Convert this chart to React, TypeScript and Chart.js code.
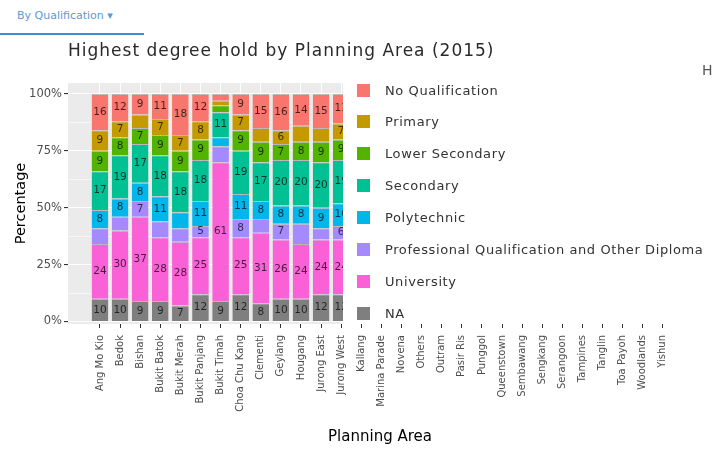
import React, { useEffect, useRef } from "react";
import { Chart, registerables } from "chart.js";

Chart.register(...registerables);

const FONT = "'DejaVu Sans', Verdana, sans-serif";

// Categories on the x axis
const planningAreas = [
  "Ang Mo Kio", "Bedok", "Bishan", "Bukit Batok", "Bukit Merah", "Bukit Panjang",
  "Bukit Timah", "Choa Chu Kang", "Clementi", "Geylang", "Hougang", "Jurong East",
  "Jurong West", "Kallang", "Marina Parade", "Novena", "Others", "Outram",
  "Pasir Ris", "Punggol", "Queenstown", "Sembawang", "Sengkang", "Serangoon",
  "Tampines", "Tanglin", "Toa Payoh", "Woodlands", "Yishun",
];

// Percent values (areas hidden behind the legend are not readable)
const noQualification = [16, 12, 9, 11, 18, 12, 3, 9, 15, 16, 14, 15, 13];
const primary = [9, 7, 6, 7, 7, 8, 2, 7, 6, 6, 7, 6, 7];
const lowerSecondary = [9, 8, 7, 9, 9, 9, 3, 9, 9, 7, 8, 9, 9];
const secondary = [17, 19, 17, 18, 18, 18, 11, 19, 17, 20, 20, 20, 19];
const polytechnic = [8, 8, 8, 11, 7, 11, 4, 11, 8, 8, 8, 9, 10];
const professional = [7, 6, 7, 7, 6, 5, 7, 8, 6, 7, 9, 5, 6];
const university = [24, 30, 37, 28, 28, 25, 61, 25, 31, 26, 24, 24, 24];
const notAvailable = [10, 10, 9, 9, 7, 12, 9, 12, 8, 10, 10, 12, 12];

// y tick values (major every 25, minor between)
const yTickValues = [0, 12.5, 25, 37.5, 50, 62.5, 75, 87.5, 100];

// Segment labels that are not printed in the original
const hiddenLabels = [
  "Professional Qualification and Other Diploma|Ang Mo Kio",
  "Professional Qualification and Other Diploma|Bedok",
  "Primary|Bishan",
  "Professional Qualification and Other Diploma|Bukit Batok",
  "Polytechnic|Bukit Merah",
  "Professional Qualification and Other Diploma|Bukit Merah",
  "No Qualification|Bukit Timah",
  "Primary|Bukit Timah",
  "Lower Secondary|Bukit Timah",
  "Polytechnic|Bukit Timah",
  "Professional Qualification and Other Diploma|Bukit Timah",
  "Primary|Clementi",
  "Professional Qualification and Other Diploma|Clementi",
  "Primary|Hougang",
  "Professional Qualification and Other Diploma|Hougang",
  "Primary|Jurong East",
  "Professional Qualification and Other Diploma|Jurong East",
];

// Legend order (top to bottom)
const series = [
  { label: "No Qualification", values: noQualification, color: "#F8766D" },
  { label: "Primary", values: primary, color: "#C49A00" },
  { label: "Lower Secondary", values: lowerSecondary, color: "#53B400" },
  { label: "Secondary", values: secondary, color: "#00C094" },
  { label: "Polytechnic", values: polytechnic, color: "#00B6EB" },
  { label: "Professional Qualification and Other Diploma", values: professional, color: "#A58AFF" },
  { label: "University", values: university, color: "#FB61D7" },
  { label: "NA", values: notAvailable, color: "#7F7F7F" },
];

const panelBackground = {
  id: "panelBackground",
  beforeDraw(chart: any) {
    const { ctx, chartArea } = chart;
    ctx.save();
    ctx.fillStyle = "#EBEBEB";
    ctx.fillRect(chartArea.left, chartArea.top, chartArea.right - chartArea.left, chartArea.bottom - chartArea.top);
    ctx.restore();
  },
};

const segmentLabels = {
  id: "segmentLabels",
  afterDatasetsDraw(chart: any) {
    const ctx = chart.ctx;
    ctx.save();
    ctx.font = `10.5px ${FONT}`;
    ctx.fillStyle = "rgba(0,0,0,0.72)";
    ctx.textAlign = "center";
    ctx.textBaseline = "middle";
    chart.data.datasets.forEach((ds: any, di: number) => {
      const meta = chart.getDatasetMeta(di);
      meta.data.forEach((bar: any, i: number) => {
        const raw = ds.data[i];
        if (!raw || raw.y == null) return;
        if (hiddenLabels.includes(`${ds.label}|${planningAreas[raw.x]}`)) return;
        const p = bar.getProps(["x", "y", "base"], true);
        ctx.fillText(String(raw.y), p.x, (p.y + p.base) / 2);
      });
    });
    ctx.restore();
  },
};

export default function App() {
  const canvasRef = useRef<HTMLCanvasElement | null>(null);

  useEffect(() => {
    if (!canvasRef.current) return;
    const datasets = [...series].reverse().map((s) => ({
      label: s.label,
      data: s.values.map((v, i) => ({ x: i, y: v })),
      backgroundColor: s.color,
      borderColor: "rgba(0,0,0,0.22)",
      borderWidth: { top: 1, bottom: 0, left: 0, right: 0 },
      borderSkipped: false,
      categoryPercentage: 1,
      barPercentage: 0.83,
    }));

    const chart = new Chart(canvasRef.current, {
      type: "bar",
      data: { datasets } as any,
      options: {
        responsive: false,
        animation: false,
        layout: { padding: { top: 83, right: 29, left: 0, bottom: 0 } },
        plugins: {
          legend: { display: false },
          tooltip: { enabled: false },
          title: { display: false },
        },
        scales: {
          x: {
            type: "linear",
            stacked: true,
            offset: false,
            min: -1.59,
            max: 29.45,
            afterBuildTicks: (s: any) => {
              s.ticks = planningAreas.map((_, i) => ({ value: i }));
            },
            afterFit: (s: any) => {
              s.height = 128;
            },
            ticks: {
              autoSkip: false,
              minRotation: 90,
              maxRotation: 90,
              padding: 7,
              color: "#4D4D4D",
              font: { family: FONT, size: 10 },
              callback: (v: any) => planningAreas[v] ?? "",
            },
            grid: {
              color: "#FFFFFF",
              lineWidth: 1,
              offset: false,
              drawTicks: true,
              tickLength: 4,
              tickColor: "#333333",
            },
            border: { display: false },
            title: {
              display: true,
              text: "Planning Area",
              color: "#000000",
              font: { family: FONT, size: 15 },
              padding: { top: 0, bottom: 6 },
            },
          },
          y: {
            stacked: true,
            min: -1.1,
            max: 104.8,
            afterBuildTicks: (s: any) => {
              s.ticks = yTickValues.map((v) => ({ value: v }));
            },
            afterFit: (s: any) => {
              s.width = 68;
            },
            ticks: {
              padding: 2,
              color: "#4D4D4D",
              font: { family: FONT, size: 11.5 },
              callback: (v: any) => (v % 25 === 0 ? `${v}%` : ""),
            },
            grid: {
              color: "#FFFFFF",
              lineWidth: (c: any) => (c.tick && c.tick.value % 25 === 0 ? 1.1 : 0.55),
              tickLength: 4,
              tickColor: (c: any) => (c.tick && c.tick.value % 25 === 0 ? "#333333" : "rgba(0,0,0,0)"),
            },
            border: { display: false },
            title: {
              display: true,
              text: "Percentage",
              color: "#000000",
              font: { family: FONT, size: 14.5 },
              padding: { top: 13, bottom: 0 },
            },
          },
        },
      } as any,
      plugins: [panelBackground, segmentLabels],
    });
    return () => chart.destroy();
  }, []);

  return (
    <div style={{ position: "absolute", left: 0, top: 0, width: 721, height: 452, background: "#FFFFFF", overflow: "hidden" }}>
      <div style={{ position: "absolute", left: 17, top: 9, font: `11px ${FONT}`, color: "#5B9BD5", whiteSpace: "nowrap" }}>
        By Qualification ▾
      </div>
      <div style={{ position: "absolute", left: 0, top: 33, width: 144, height: 2, background: "#3B8ED6" }} />
      <canvas ref={canvasRef} width={721} height={452} style={{ position: "absolute", left: 0, top: 0, display: "block" }} />
      <div style={{ position: "absolute", left: 68, top: 40, font: `17px ${FONT}`, letterSpacing: "1px", color: "#2A2A2A", whiteSpace: "nowrap", lineHeight: "20px" }}>
        Highest degree hold by Planning Area (2015)
      </div>
      <div style={{ position: "absolute", left: 702, top: 61, font: `14px ${FONT}`, color: "#555555", lineHeight: "18px" }}>H</div>
      <div style={{ position: "absolute", left: 343, top: 76, width: 367, height: 248, background: "#FFFFFF" }}>
        {series.map((s, i) => (
          <div
            key={s.label}
            style={{ position: "absolute", left: 14, top: 7.5 + i * 31.9, height: 13, display: "flex", alignItems: "center" }}
          >
            <span style={{ display: "inline-block", width: 13, height: 13, background: s.color }} />
            <span style={{ marginLeft: 15, font: `13px ${FONT}`, letterSpacing: "0.6px", color: "#333333", whiteSpace: "nowrap", lineHeight: "13px" }}>
              {s.label}
            </span>
          </div>
        ))}
      </div>
    </div>
  );
}
